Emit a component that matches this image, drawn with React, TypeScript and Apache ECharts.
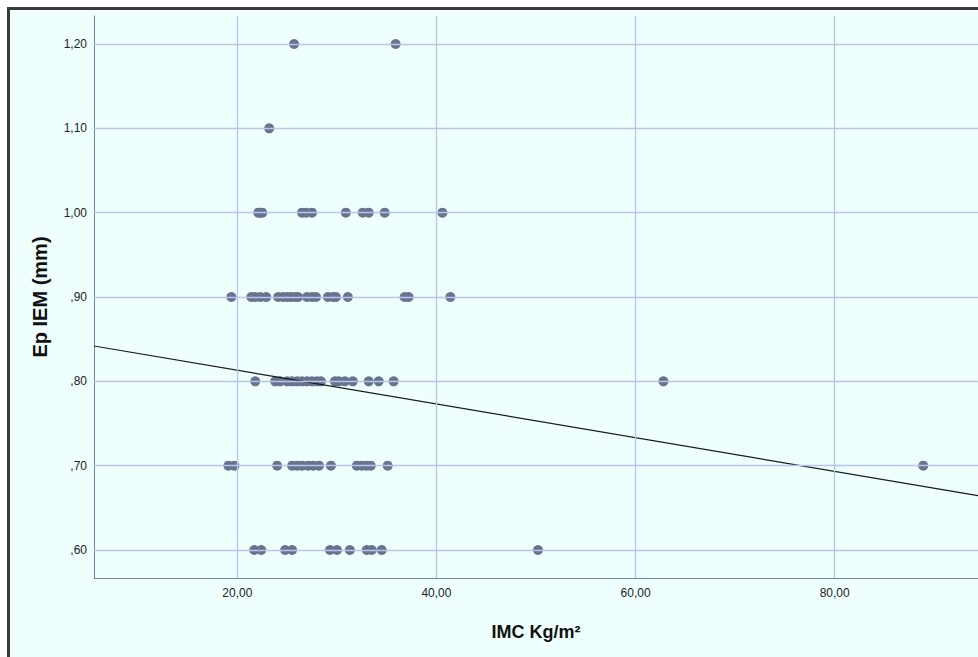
import React, { useEffect, useRef } from "react";
import * as echarts from "echarts";

// Ep IEM levels (mm) and the IMC values (kg/m²) observed at each level
const epLevels = [1.2, 1.1, 1.0, 0.9, 0.8, 0.7, 0.6];
const imcAt120 = [25.7, 35.9];
const imcAt110 = [23.2];
const imcAt100 = [22.1, 22.3, 22.5, 26.5, 26.9, 27.5, 30.9, 32.6, 33.2, 34.8, 40.6];
const imcAt090 = [19.4, 21.4, 21.8, 22.3, 22.9, 24.1, 24.6, 25.0, 25.4, 25.8, 26.1, 27.0, 27.5, 27.9, 29.1, 29.6, 29.9, 31.1, 36.8, 37.2, 41.4];
const imcAt080 = [21.8, 23.8, 24.3, 25.0, 25.5, 26.0, 26.5, 27.0, 27.5, 28.0, 28.4, 29.8, 30.2, 30.8, 31.6, 33.2, 34.2, 35.7, 62.8];
const imcAt070 = [19.1, 19.7, 24.0, 25.5, 26.0, 26.5, 27.1, 27.6, 28.2, 29.4, 32.0, 32.5, 33.0, 33.4, 35.1, 88.9];
const imcAt060 = [21.7, 22.4, 24.8, 25.5, 29.3, 30.0, 31.3, 33.0, 33.5, 34.5, 50.2];
const imcByLevel = [imcAt120, imcAt110, imcAt100, imcAt090, imcAt080, imcAt070, imcAt060];

// Axis ranges and ticks
const xMin = 5.6;
const xMax = 94.4;
const yMin = 0.5668;
const yMax = 1.2332;
const xTicks = [20, 40, 60, 80];
const yTicks = [0.6, 0.7, 0.8, 0.9, 1.0, 1.1, 1.2];

// Linear fit
const fitIntercept = 0.8531;
const fitSlope = -0.001999;

const fmtComma = (v: number, d: number) => {
  const s = v.toFixed(d).replace(".", ",");
  return s.startsWith("0,") ? s.slice(1) : s;
};

export default function App() {
  const ref = useRef<HTMLDivElement>(null);
  useEffect(() => {
    if (!ref.current) return;
    const chart = echarts.init(ref.current, null, { renderer: "svg" });
    const points: number[][] = [];
    imcByLevel.forEach((arr, i) => arr.forEach((x) => points.push([x, epLevels[i]])));
    const fitLine = [xMin, xMax].map((x) => [x, fitIntercept + fitSlope * x]);
    const gridColor = "#b7c5ea";
    const axisColor = "#7382a3";
    const font = "'Liberation Sans', Arial, sans-serif";
    chart.setOption({
      animation: false,
      backgroundColor: "transparent",
      grid: { left: 94, top: 16, right: 0, bottom: 79, containLabel: false },
      xAxis: {
        type: "value",
        min: xMin,
        max: xMax,
        name: "IMC Kg/m²",
        nameLocation: "middle",
        nameGap: 45,
        nameTextStyle: { fontFamily: font, fontSize: 18, fontWeight: "bold", color: "#111" },
        axisLine: { show: true, lineStyle: { color: axisColor, width: 1 } },
        axisTick: { show: false },
        splitLine: { show: false },
        axisLabel: {
          customValues: xTicks,
          formatter: (v: number) => fmtComma(v, 2),
          fontFamily: font,
          fontSize: 12,
          color: "#222",
          margin: 9,
        },
      },
      yAxis: {
        type: "value",
        min: yMin,
        max: yMax,
        name: "Ep IEM (mm)",
        nameLocation: "middle",
        nameGap: 44,
        nameTextStyle: { fontFamily: font, fontSize: 20, fontWeight: "bold", color: "#111" },
        axisLine: { show: true, lineStyle: { color: axisColor, width: 1 } },
        axisTick: { show: false },
        splitLine: { show: false },
        axisLabel: {
          customValues: yTicks,
          formatter: (v: number) => fmtComma(v, 2),
          fontFamily: font,
          fontSize: 12,
          color: "#222",
          margin: 7,
        },
      },
      series: [
        {
          type: "line",
          data: [],
          z: 1,
          silent: true,
          markLine: {
            silent: true,
            symbol: "none",
            label: { show: false },
            lineStyle: { color: gridColor, width: 1.3, type: "solid" },
            data: [
              ...xTicks.map((v) => ({ xAxis: v })),
              ...yTicks.map((v) => ({ yAxis: v })),
            ],
          },
        },
        {
          type: "scatter",
          data: points,
          z: 2,
          symbol: "circle",
          symbolSize: 10,
          itemStyle: { color: "#68738f", opacity: 1 },
        },
        {
          type: "line",
          data: fitLine,
          z: 3,
          symbol: "none",
          lineStyle: { color: "#1a1a1a", width: 1.2 },
        },
      ],
    });
    return () => chart.dispose();
  }, []);
  return (
    <div style={{ position: "fixed", left: 0, top: 0, width: 978, height: 657, background: "#fff" }}>
      <div
        style={{
          position: "absolute",
          left: 7,
          top: 7,
          width: 971,
          height: 650,
          boxSizing: "border-box",
          borderTop: "3px solid #3a3a3a",
          borderLeft: "3px solid #3a3a3a",
          background: "#eefffe",
        }}
      />
      <div ref={ref} style={{ position: "absolute", left: 0, top: 0, width: 978, height: 657 }} />
    </div>
  );
}
